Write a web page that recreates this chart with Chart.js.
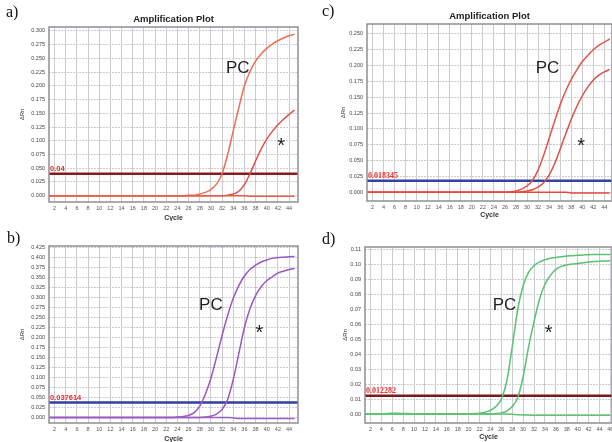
<!DOCTYPE html>
<html>
<head>
<meta charset="utf-8">
<script src="https://cdn.jsdelivr.net/npm/chart.js@4.4.1/dist/chart.umd.min.js"></script>
<style>
  body { margin: 0; background: #fff; }
  #fig { position: relative; width: 612px; height: 442px; overflow: hidden; }
  canvas { position: absolute; }
  .lbl { position: absolute; font-family: "Liberation Serif", serif; font-size: 16px; color: #111; }
</style>
</head>
<body>
<div id="fig">
  <canvas id="pa" width="306" height="221" style="left:0;top:0"></canvas>
  <canvas id="pc" width="306" height="221" style="left:306px;top:0"></canvas>
  <canvas id="pb" width="306" height="221" style="left:0;top:221px"></canvas>
  <canvas id="pd" width="306" height="221" style="left:306px;top:221px"></canvas>
  <div class="lbl" style="left:6px;top:3px">a)</div>
  <div class="lbl" style="left:322px;top:2px">c)</div>
  <div class="lbl" style="left:7px;top:229px">b)</div>
  <div class="lbl" style="left:322px;top:230px">d)</div>
</div>
<script>
// Ciclos de PCR (eje x)
const ciclos = [1,2,3,4,5,6,7,8,9,10,11,12,13,14,15,16,17,18,19,20,21,22,23,24,25,26,27,28,29,30,
                31,32,33,34,35,36,37,38,39,40,41,42,43,44,45,46];
const ticksCiclo = [2,4,6,8,10,12,14,16,18,20,22,24,26,28,30,32,34,36,38,40,42,44];
const ticksCicloD = [2,4,6,8,10,12,14,16,18,20,22,24,26,28,30,32,34,36,38,40,42,44,46];

// a)
const aPC   = [0,0,0,0,0,0,0,0,0,0, 0,0,0,0,0,0,0,0,0,0, 0,0,0,0,0,0.001,0.001,0.003,0.006,0.011,
               0.021,0.040,0.075,0.118,0.160,0.200,0.226,0.245,0.258,0.268, 0.276,0.282,0.287,0.291,0.294];
const aStar = [0,0,0,0,0,0,0,0,0,0, 0,0,0,0,0,0,0,0,0,0, 0,0,0,0,0,0,0,0,0,0,
               0,0,0.001,0.003,0.008,0.020,0.040,0.063,0.085,0.103, 0.117,0.129,0.139,0.148,0.156];
const aNeg  = [0,0,0,0,0,0,0,0,0,0, 0,0,0,0,0,0,0,0,0,0, 0,0,0,0,0,0,0,0,0,0,
               0,0,0,0,0,0,-0.001,-0.001,-0.001,-0.001, -0.001,-0.001,-0.001,-0.001,-0.001];
const aUmbral = 0.04;
const aTicksY = [0.000,0.025,0.050,0.075,0.100,0.125,0.150,0.175,0.200,0.225,0.250,0.275,0.300];

// c)
const cPC   = [0,0,0,0,0,0,0,0,0,0, 0,0,0,0,0,0,0,0,0,0, 0,0,0,0,0,0,0.001,0.002,0.005,0.010,
               0.019,0.035,0.058,0.085,0.112,0.138,0.160,0.178,0.193,0.206, 0.216,0.225,0.232,0.237,0.242];
const cStar = [0,0,0,0,0,0,0,0,0,0, 0,0,0,0,0,0,0,0,0,0, 0,0,0,0,0,0,0,0,0.001,0.002,
               0.004,0.008,0.015,0.027,0.045,0.068,0.092,0.115,0.135,0.152, 0.166,0.177,0.185,0.190,0.194];
const cNeg  = [0,0,0,0,0,0,0,0,0,0, 0,0,0,0,0,0,0,0,0,0, 0,0,0,0,0,0,0,0,0,0,
               0,0,0,0,0,0,0,-0.001,-0.001,-0.001, -0.001,-0.001,-0.001,-0.001,-0.001];
const cUmbral = 0.018345;
const cTicksY = [0.000,0.025,0.050,0.075,0.100,0.125,0.150,0.175,0.200,0.225,0.250];

// b)
const bPC   = [0,0,0,0,0,0,0,0,0,0, 0,0,0,0,0,0,0,0,0,0, 0,0,0,0.001,0.002,0.005,0.012,0.028,0.058,0.098,
               0.150,0.205,0.255,0.298,0.330,0.354,0.370,0.381,0.389,0.394, 0.398,0.400,0.401,0.402,0.403];
const bStar = [0,0,0,0,0,0,0,0,0,0, 0,0,0,0,0,0,0,0,0,0, 0,0,0,0,0,0,0,0,0.001,0.003,
               0.008,0.020,0.045,0.095,0.160,0.225,0.272,0.305,0.327,0.342, 0.352,0.361,0.366,0.370,0.373];
const bNeg  = [0,0,0,0,0,0,0,0,0,0, 0,0,0,0,0,0,0,0,0,0, 0,0,0,0,0,0,0,0,0,0,
               0,0,0,-0.001,-0.003,-0.003,-0.003,-0.003,-0.003,-0.003, -0.003,-0.003,-0.003,-0.003,-0.003];
const bUmbral = 0.037614;
const bTicksY = [0.000,0.025,0.050,0.075,0.100,0.125,0.150,0.175,0.200,0.225,0.250,0.275,0.300,
                 0.325,0.350,0.375,0.400,0.425];

// d)
const dPC   = [0,0,0,0,0,0,0,0,0,0, 0,0,0,0,0,0,0,0,0,0, 0.0003,0.0006,0.0012,0.0025,0.005,0.010,0.022,0.045,0.070,0.086,
               0.095,0.0995,0.102,0.1035,0.1045,0.105,0.1055,0.106,0.1062,0.1065, 0.1067,0.1068,0.107,0.107,0.107,0.107];
const dStar = [0,0,0,0,0,0,0,0,0,0, 0,0,0,0,0,0,0,0,0,0, 0,0,0,0,0.0003,0.0008,0.002,0.005,0.011,0.025,
               0.045,0.062,0.077,0.087,0.093,0.097,0.099,0.100,0.1006,0.101, 0.1015,0.102,0.1022,0.1025,0.1026,0.1027];
const dNeg  = [-0.0002,-0.0001,0,0.0002,0.0004,0.0005,0.0005,0.0004,0.0003,0.0002, 0.0001,0,0,0,0,0,0,0,0,0,
               0,0,0,0,0,0,0,-0.0002,-0.0004,-0.0006, -0.0007,-0.0008,-0.0008,-0.0008,-0.0008,-0.0008,-0.0008,-0.0008,-0.0008,-0.0008,
               -0.0008,-0.0008,-0.0008,-0.0008,-0.0008,-0.0008];
const dUmbral = 0.012282;
const dTicksY = [0.00,0.01,0.02,0.03,0.04,0.05,0.06,0.07,0.08,0.09,0.10,0.11];

// Dibuja marco, títulos, umbral y anotaciones
const extras = {
    id: 'extras',
    afterDraw(chart, args, o) {
        const ctx = chart.ctx;
        const a = chart.chartArea;
        const x = chart.scales.x, y = chart.scales.y;
        ctx.save();
        ctx.strokeStyle = '#8f8f95';
        ctx.lineWidth = 1.5;
        ctx.strokeRect(a.left, a.top, a.right - a.left, a.bottom - a.top);

        ctx.fillStyle = '#333';
        ctx.textAlign = 'center';
        ctx.textBaseline = 'middle';
        ctx.font = 'bold 7px "Liberation Sans"';
        ctx.fillText('Cycle', (a.left + a.right) / 2, a.bottom + o.cicloDy);
        if (o.titulo) {
            ctx.fillStyle = '#222';
            ctx.font = 'bold 9.5px "Liberation Sans"';
            ctx.fillText(o.titulo, (a.left + a.right) / 2, o.tituloY);
        }
        ctx.save();
        ctx.fillStyle = '#333';
        ctx.font = '6px "Liberation Sans"';
        ctx.translate(a.left - o.rnDx, (a.top + a.bottom) / 2);
        ctx.rotate(-Math.PI / 2);
        ctx.fillText('\u0394Rn', 0, 0);
        ctx.restore();

        // etiqueta del umbral
        ctx.textAlign = 'left';
        ctx.textBaseline = 'bottom';
        ctx.fillStyle = '#ee2b2b';
        ctx.font = o.umbralFont;
        ctx.fillText(o.umbralTexto, a.left + 1, y.getPixelForValue(o.umbral) - 1);

        // anotaciones PC y *
        ctx.fillStyle = '#1e1e1e';
        ctx.textAlign = 'center';
        ctx.textBaseline = 'middle';
        ctx.font = '17px "Liberation Sans"';
        ctx.fillText('PC', x.getPixelForValue(o.pc[0]), y.getPixelForValue(o.pc[1]));
        ctx.font = '20px "Liberation Sans"';
        ctx.fillText('*', x.getPixelForValue(o.ast[0]), y.getPixelForValue(o.ast[1]) + 5);
        ctx.restore();
    }
};

function serie(valores, color) {
    return {
        data: valores.map((v, i) => ({ x: ciclos[i], y: v })),
        borderColor: color,
        borderWidth: 1.5,
        pointRadius: 0,
        cubicInterpolationMode: 'monotone',
        fill: false
    };
}

function crearPanel(id, p) {
    const ctx = document.getElementById(id);
    return new Chart(ctx, {
        type: 'line',
        data: {
            datasets: [
                serie(p.neg, p.colorNeg),
                serie(p.pc, p.color),
                serie(p.star, p.colorStar),
                {
                    data: [{ x: p.xMin, y: p.umbral }, { x: p.xMax, y: p.umbral }],
                    borderColor: p.colorUmbral,
                    borderWidth: 2.5,
                    pointRadius: 0
                }
            ]
        },
        options: {
            responsive: false,
            animation: false,
            events: [],
            layout: { padding: { left: 0, top: p.top, right: p.right, bottom: 0 } },
            plugins: {
                legend: { display: false },
                tooltip: { enabled: false },
                extras: {
                    titulo: p.titulo, tituloY: p.tituloY, cicloDy: p.cicloDy, rnDx: p.rnDx,
                    umbral: p.umbral, umbralTexto: p.umbralTexto, umbralFont: p.umbralFont,
                    pc: p.notaPC, ast: p.notaAst
                }
            },
            scales: {
                x: {
                    type: 'linear',
                    min: p.xMin,
                    max: p.xMax,
                    afterBuildTicks: s => { s.ticks = p.ticksX.map(v => ({ value: v })); },
                    afterFit: s => { s.height = p.altoX; s.paddingLeft = 0; s.paddingRight = 0; },
                    ticks: {
                        autoSkip: false, maxRotation: 0, padding: 3,
                        color: '#555', font: { family: 'Liberation Sans', size: 5.5 }
                    },
                    grid: { color: '#cbcbd0', drawTicks: false },
                    border: { display: false }
                },
                y: {
                    min: p.yMin,
                    max: p.yMax,
                    afterBuildTicks: s => { s.ticks = p.ticksY.map(v => ({ value: v })); },
                    afterFit: s => { s.width = p.anchoY; s.paddingTop = 0; s.paddingBottom = 0; },
                    ticks: {
                        padding: 4,
                        color: '#444',
                        font: { family: 'Liberation Sans', size: 5.5 },
                        callback: v => v.toFixed(p.decimales)
                    },
                    grid: { color: '#cbcbd0', drawTicks: false, tickBorderDash: [2, 2] },
                    border: { display: false, dash: [2, 1] }
                }
            }
        },
        plugins: [extras]
    });
}

crearPanel('pa', {
    pc: aPC, star: aStar, neg: aNeg,
    color: '#ea7150', colorStar: '#dd5048', colorNeg: '#e85a4c', colorUmbral: '#861c20',
    umbral: aUmbral, umbralTexto: '0.04', umbralFont: 'bold 7.5px "Liberation Sans"',
    xMin: 1, xMax: 45.6, yMin: -0.0115, yMax: 0.307,
    ticksX: ticksCiclo, ticksY: aTicksY, decimales: 3,
    anchoY: 49, altoX: 19, top: 27, right: 8,
    titulo: 'Amplification Plot', tituloY: 19, cicloDy: 16, rnDx: 27,
    notaPC: [34.8, 0.231], notaAst: [42.6, 0.099]
});

crearPanel('pc', {
    pc: cPC, star: cStar, neg: cNeg,
    color: '#e0574a', colorStar: '#dc5046', colorNeg: '#e8463c', colorUmbral: '#3343a2',
    umbral: cUmbral, umbralTexto: '0.018345', umbralFont: 'bold 8px "Liberation Serif"',
    xMin: 1, xMax: 45.4, yMin: -0.0138, yMax: 0.2657,
    ticksX: ticksCiclo, ticksY: cTicksY, decimales: 3,
    anchoY: 61, altoX: 20, top: 24, right: 0,
    titulo: 'Amplification Plot', tituloY: 16, cicloDy: 14, rnDx: 24,
    notaPC: [33.7, 0.195], notaAst: [39.8, 0.080]
});

crearPanel('pb', {
    pc: bPC, star: bStar, neg: bNeg,
    color: '#9a58c2', colorStar: '#9a58c2', colorNeg: '#9b5fc4', colorUmbral: '#2f3f9f',
    umbral: bUmbral, umbralTexto: '0.037614', umbralFont: 'bold 7.5px "Liberation Sans"',
    xMin: 1, xMax: 45.6, yMin: -0.014, yMax: 0.429,
    ticksX: ticksCiclo, ticksY: bTicksY, decimales: 3,
    anchoY: 49, altoX: 19, top: 25, right: 8,
    titulo: null, tituloY: 0, cicloDy: 16, rnDx: 27,
    notaPC: [30.0, 0.281], notaAst: [38.7, 0.222]
});

crearPanel('pd', {
    pc: dPC, star: dStar, neg: dNeg,
    color: '#58c270', colorStar: '#58c270', colorNeg: '#5cc474', colorUmbral: '#7a1a1c',
    umbral: dUmbral, umbralTexto: '0.012282', umbralFont: 'bold 8px "Liberation Serif"',
    xMin: 1, xMax: 46.3, yMin: -0.006, yMax: 0.112,
    ticksX: ticksCicloD, ticksY: dTicksY, decimales: 2,
    anchoY: 59, altoX: 19, top: 26, right: 0,
    titulo: null, tituloY: 0, cicloDy: 14, rnDx: 20,
    notaPC: [26.6, 0.0732], notaAst: [34.7, 0.0574]
});
</script>
</body>
</html>
